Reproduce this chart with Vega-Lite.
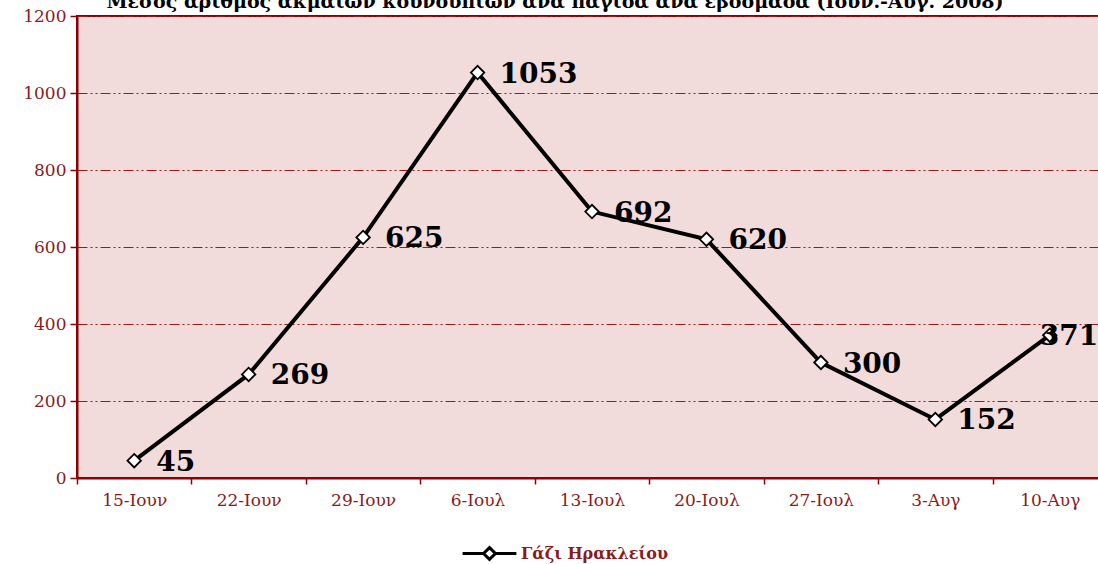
{
  "$schema": "https://vega.github.io/schema/vega-lite/v6.json",
  "width": 1030,
  "height": 462,
  "padding": {"left": 22, "top": -7, "right": 0, "bottom": 4},
  "background": "white",
  "title": {
    "text": "Μέσος αριθμός ακμαίων κουνουπιών ανά παγίδα ανά εβδομάδα (Ιούν.-Αύγ. 2008)",
    "font": "DejaVu Serif",
    "fontSize": 19,
    "fontWeight": "bold",
    "color": "black",
    "anchor": "middle",
    "dx": -37,
    "offset": -5
  },
  "data": {
    "values": [
      {"week": "15-Ιουν", "value": 45, "series": "Γάζι Ηρακλείου"},
      {"week": "22-Ιουν", "value": 269, "series": "Γάζι Ηρακλείου"},
      {"week": "29-Ιουν", "value": 625, "series": "Γάζι Ηρακλείου"},
      {"week": "6-Ιουλ", "value": 1053, "series": "Γάζι Ηρακλείου"},
      {"week": "13-Ιουλ", "value": 692, "series": "Γάζι Ηρακλείου"},
      {"week": "20-Ιουλ", "value": 620, "series": "Γάζι Ηρακλείου"},
      {"week": "27-Ιουλ", "value": 300, "series": "Γάζι Ηρακλείου"},
      {"week": "3-Αυγ", "value": 152, "series": "Γάζι Ηρακλείου"},
      {"week": "10-Αυγ", "value": 371, "series": "Γάζι Ηρακλείου"}
    ]
  },
  "encoding": {
    "x": {
      "field": "week",
      "type": "nominal",
      "sort": null,
      "scale": {"type": "band", "paddingInner": 0, "paddingOuter": 0},
      "axis": {
        "title": null,
        "labelAngle": 0,
        "tickBand": "extent",
        "labelFont": "DejaVu Serif",
        "labelFontSize": 17,
        "labelColor": "#8B1A1A",
        "labelPadding": 8,
        "domainColor": "#8B0000",
        "domainWidth": 2,
        "tickColor": "#8B0000",
        "tickWidth": 1.5,
        "tickSize": 6,
        "grid": false
      }
    },
    "y": {
      "field": "value",
      "type": "quantitative",
      "scale": {"domain": [0, 1200]},
      "axis": {
        "title": null,
        "format": "d",
        "values": [0, 200, 400, 600, 800, 1000, 1200],
        "labelFont": "DejaVu Serif",
        "labelFontSize": 17,
        "labelColor": "#8B1A1A",
        "labelPadding": 4,
        "domainColor": "#8B0000",
        "domainWidth": 2,
        "tickColor": "#8B0000",
        "tickWidth": 1.5,
        "tickSize": 7,
        "grid": true,
        "gridColor": "#A01818",
        "gridWidth": 1,
        "gridDash": [10, 3, 2, 3, 2, 3]
      }
    }
  },
  "layer": [
    {
      "mark": {"type": "line", "strokeWidth": 4},
      "encoding": {
        "color": {
          "field": "series",
          "type": "nominal",
          "scale": {"range": ["black"]},
          "legend": {
            "title": null,
            "orient": "none",
            "legendX": 384,
            "legendY": 509,
            "symbolType": "M-1,0H-0.22M0.22,0H1M0,-0.22L0.22,0L0,0.22L-0.22,0Z",
            "symbolSize": 2900,
            "symbolStrokeWidth": 3,
            "symbolFillColor": "white",
            "symbolStrokeColor": "black",
            "labelFont": "DejaVu Serif",
            "labelFontSize": 16,
            "labelColor": "#8B1A1A",
            "labelFontWeight": "bold",
            "labelOffset": 3
          }
        }
      }
    },
    {
      "mark": {
        "type": "point",
        "shape": "diamond",
        "filled": true,
        "fill": "white",
        "stroke": "black",
        "strokeWidth": 1.8,
        "size": 180,
        "opacity": 1
      }
    },
    {
      "transform": [{"filter": "datum.week !== '10-Αυγ'"}],
      "mark": {
        "type": "text",
        "align": "left",
        "baseline": "middle",
        "dx": 22,
        "dy": 2,
        "font": "DejaVu Serif",
        "fontSize": 28,
        "fontWeight": "bold",
        "color": "black"
      },
      "encoding": {"text": {"field": "value", "type": "quantitative"}}
    },
    {
      "transform": [{"filter": "datum.week === '10-Αυγ'"}],
      "mark": {
        "type": "text",
        "align": "left",
        "baseline": "middle",
        "dx": -10,
        "dy": 2,
        "font": "DejaVu Serif",
        "fontSize": 28,
        "fontWeight": "bold",
        "color": "black"
      },
      "encoding": {"text": {"field": "value", "type": "quantitative"}}
    }
  ],
  "config": {
    "view": {"fill": "#F2DCDB", "stroke": "#8B0000", "strokeWidth": 2}
  }
}
